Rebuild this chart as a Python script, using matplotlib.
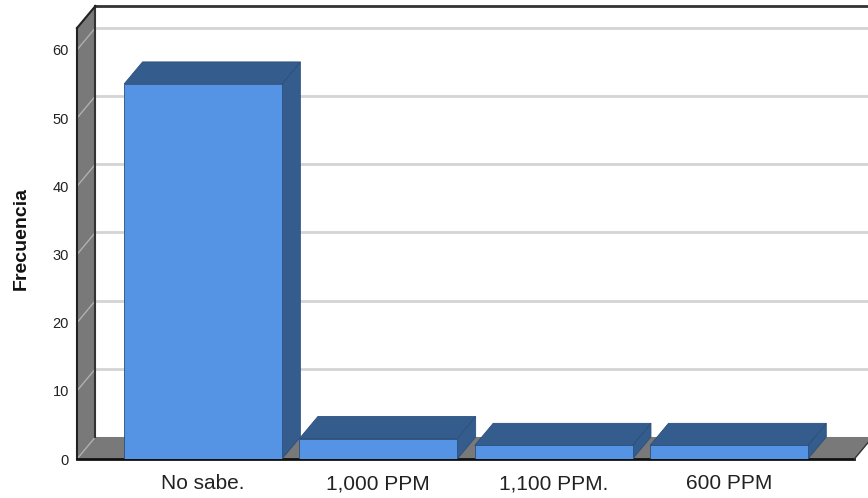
import numpy as np
import matplotlib.pyplot as plt
import matplotlib.transforms as mtransforms
from matplotlib.patches import Polygon

categories = ['No sabe.', '1,000 PPM', '1,100 PPM.', '600 PPM']
counts = [55, 3, 2, 2]
yticks = [0, 10, 20, 30, 40, 50, 60]

plt.rcParams['font.family'] = ['Liberation Sans', 'DejaVu Sans']

front_col = '#5594e4'
dark_col = '#345c8d'
edge_col = '#2c4f7c'
wall_col = '#797979'
grid_col = '#d4d4d4'

# pseudo 3d depth offset (data units)
dx = 0.105
dy = 3.23
ymax = 63.2
x_left = -0.719
x_right = 3.793
floor_end = 3.715
bar_w = 0.9

fig = plt.figure(figsize=(8.68, 4.98), dpi=100)
ax = fig.add_axes([77 / 868, 39 / 498, (868 - 77) / 868, 453 / 498])
ax.set_xlim(x_left, x_right)
ax.set_ylim(0, ymax + dy)
ax.patch.set_alpha(0)
for s in ax.spines.values():
    s.set_visible(False)

# left wall
ax.add_patch(Polygon([(x_left, 0), (x_left + dx, dy), (x_left + dx, ymax + dy), (x_left, ymax)],
                     closed=True, facecolor=wall_col, edgecolor='none', zorder=1, clip_on=False))
# floor
ax.add_patch(Polygon([(x_left, 0), (floor_end, 0), (floor_end + dx, dy), (x_left + dx, dy)],
                     closed=True, facecolor=wall_col, edgecolor='none', zorder=1, clip_on=False))

# grid lines on back wall and left wall
for t in yticks:
    if t > 0:
        ax.plot([x_left + dx, x_right + 0.1], [t + dy, t + dy], color=grid_col, lw=2, zorder=0.5, clip_on=False)
    ax.plot([x_left, x_left + dx], [t, t + dy], color='#b0b0b0', lw=1, zorder=1.5, clip_on=False)

# frame edges
ax.plot([x_left + dx, x_right + 0.1], [ymax + dy, ymax + dy], color='#333333', lw=2, zorder=2, clip_on=False)
ax.plot([x_left + dx, x_left + dx], [dy, ymax + dy], color='#333333', lw=1.5, zorder=2, clip_on=False)
ax.plot([x_left, x_left], [0, ymax], color='#222222', lw=1.5, zorder=2, clip_on=False)
ax.plot([x_left, x_left + dx], [ymax, ymax + dy], color='#222222', lw=1.5, zorder=2, clip_on=False)
ax.plot([x_left, floor_end], [0, 0], color='#111111', lw=2, zorder=2, clip_on=False)
ax.plot([floor_end, floor_end + dx], [0, dy], color='#333333', lw=1, zorder=2, clip_on=False)

# bars
for i, v in enumerate(counts):
    x0 = i - bar_w / 2
    x1 = i + bar_w / 2
    ax.add_patch(Polygon([(x1, 0), (x1 + dx, dy), (x1 + dx, v + dy), (x1, v)],
                         closed=True, facecolor=dark_col, edgecolor=edge_col, lw=0.6, zorder=3))
    ax.add_patch(Polygon([(x0, v), (x1, v), (x1 + dx, v + dy), (x0 + dx, v + dy)],
                         closed=True, facecolor=dark_col, edgecolor=edge_col, lw=0.6, zorder=3))
    ax.add_patch(Polygon([(x0, 0), (x1, 0), (x1, v), (x0, v)],
                         closed=True, facecolor=front_col, edgecolor=edge_col, lw=0.6, zorder=4))

# category labels, baseline aligned below the floor
lab_tr = ax.get_xaxis_transform() + mtransforms.ScaledTranslation(0, -30 / 100, fig.dpi_scale_trans)
ax.set_xticks([])
for i, name in enumerate(categories):
    ax.text(i, 0, name, transform=lab_tr, ha='center', va='baseline', fontsize=15, color='#222222')

ax.set_yticks(yticks)
ax.set_yticklabels([str(t) for t in yticks], fontsize=10.5, color='#222222')
ax.tick_params(axis='y', length=0, pad=5.8)

fig.text(21.5 / 868, 0.522, 'Frecuencia', rotation=90, fontsize=14, fontweight='bold',
         ha='center', va='center', color='#111111')

fig.savefig('out.png', dpi=100)
